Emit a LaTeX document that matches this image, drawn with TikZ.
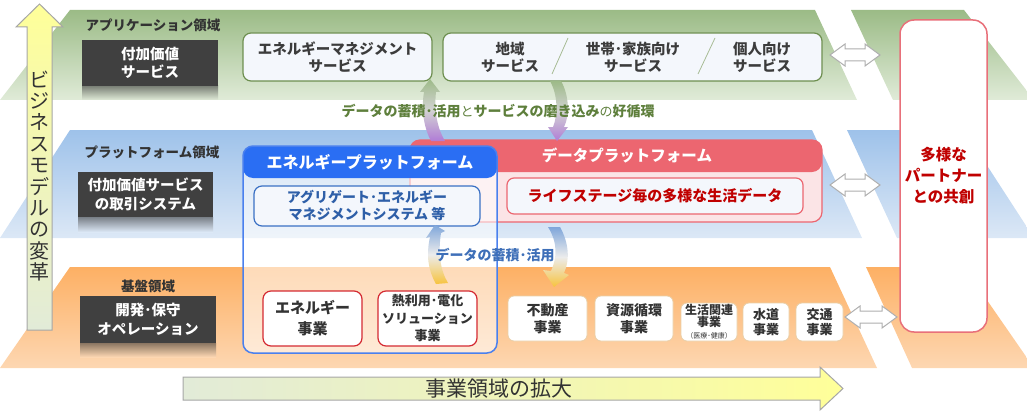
\documentclass[tikz,border=0pt]{standalone}
\usepackage{fontspec}
\setmainfont{Noto Sans CJK JP}
\definecolor{gtop}{HTML}{9BBB86}
\definecolor{gbot}{HTML}{E0EBD8}
\definecolor{btop}{HTML}{9EC2EA}
\definecolor{bbot}{HTML}{DCE8F6}
\definecolor{otop}{HTML}{FDB064}
\definecolor{obot}{HTML}{FDD7B2}
\definecolor{dk}{HTML}{404040}
\definecolor{txt}{HTML}{333333}
\definecolor{ttxt}{HTML}{3C3C3C}
\definecolor{gline}{HTML}{6E8F50}
\definecolor{boxfill}{HTML}{F4F7FC}
\definecolor{eblue}{HTML}{2A6EF3}
\definecolor{eborder}{HTML}{4A80EE}
\definecolor{dred}{HTML}{EC6670}
\definecolor{dpink}{HTML}{FBE4E6}
\definecolor{darkred}{HTML}{C00000}
\definecolor{abl}{HTML}{2E5FA8}
\definecolor{abor}{HTML}{3A70C4}
\definecolor{rbor}{HTML}{D42A32}
\definecolor{tanb}{HTML}{E9CFA8}
\definecolor{cyc}{HTML}{5E7F3C}
\definecolor{dblue}{HTML}{3E6FB8}
\definecolor{pbor}{HTML}{E8707A}
\definecolor{agray}{HTML}{A6A6A6}
\definecolor{yel}{HTML}{FFFF99}
\definecolor{lgr}{HTML}{E2EBD8}
\definecolor{purp}{HTML}{B07CD6}
\definecolor{carrg}{HTML}{9DBA88}
\definecolor{carrb}{HTML}{7FA6DA}
\definecolor{carry}{HTML}{F7C33E}
\newcommand\dblarr[3]{%
  \draw[agray!90, line width=1, fill=white] (#1,#3) -- (#1+15,#3-11) -- (#1+15,#3-6) -- (#2-15,#3-6) -- (#2-15,#3-11) -- (#2,#3) -- (#2-15,#3+11) -- (#2-15,#3+6) -- (#1+15,#3+6) -- (#1+15,#3+11) -- cycle;}
\tikzset{
  darkbox/.style={fill=dk, text=white, align=center, inner sep=0, font=\bfseries\fontsize{14.5}{18.5}\selectfont},
  arealabel/.style={text=txt, inner sep=0, font=\bfseries\fontsize{13.5}{16}\selectfont},
  topbox/.style={draw=gline, line width=1.2, fill=boxfill, rounded corners=8, inner sep=0, align=center, text=ttxt, font=\bfseries\fontsize{14.5}{17}\selectfont},
  toptext/.style={inner sep=0, align=center, text=ttxt, font=\bfseries\fontsize{14.5}{17}\selectfont},
  redbox/.style={draw=rbor, line width=1.2, fill=white, rounded corners=8, inner sep=0, align=center, text=txt},
  smallbox/.style={draw=tanb, line width=0.8, fill=white, rounded corners=6, inner sep=0, align=center, text=txt},
}
\begin{document}
\begin{tikzpicture}[x=1pt,y=-1pt]
\useasboundingbox (0,0) rectangle (1027,417);
% bands
\shade[top color=gtop, bottom color=gbot] (70,10) -- (815,10) -- (857,100) -- (0,100) -- cycle (851,10) -- (964,10) -- (1034,100) -- (893,100) -- cycle;
\shade[top color=btop, bottom color=bbot] (70,130) -- (812,130) -- (862,238) -- (0,238) -- cycle (847,130) -- (964,130) -- (1034,238) -- (897,238) -- cycle;
\shade[top color=otop, bottom color=obot] (70,267) -- (830,267) -- (877,368) -- (0,368) -- cycle (866,267) -- (964,267) -- (1034,368) -- (912,368) -- cycle;
% shadows of dark boxes
\shade[top color=black!45!gbot, bottom color=gbot] (82,86) rectangle (218,100);
\shade[top color=black!45!bbot, bottom color=bbot] (78,217) rectangle (213,232);
\shade[top color=black!45!obot, bottom color=obot] (80,343) rectangle (216,357);
% area labels and dark boxes
\node[arealabel] (la) at (153,25) {アプリケーション領域};
\node[darkbox, minimum width=136, minimum height=46] (d1) at (150,63) {付加価値\\サービス};
\node[arealabel] (lp) at (152,152) {プラットフォーム領域};
\node[darkbox, minimum width=135, minimum height=45] (d2) at (145.5,194.5) {付加価値サービス\\の取引システム};
\node[arealabel] (lb) at (148,286) {基盤領域};
\node[darkbox, minimum width=136, minimum height=47] (d3) at (148,319.5) {開発･保守\\オペレーション};
% vertical arrow
\draw[agray, line width=1, top color=yel, bottom color=lgr] (39.5,4) -- (63,27) -- (52,27) -- (52,330) -- (27,330) -- (27,27) -- (16,27) -- cycle;
\node[text=txt, align=center, inner sep=0, font=\fontsize{20}{21.4}\selectfont] (vt) at (39.5,176) {ビ\\ジ\\ネ\\ス\\モ\\デ\\ル\\の\\変\\革};
% horizontal arrow
\draw[agray, line width=1, left color=lgr, right color=yel] (183,377) -- (820,377) -- (820,367) -- (843,388.5) -- (820,410) -- (820,400) -- (183,400) -- cycle;
\node[text=txt, inner sep=0, font=\fontsize{21}{24}\selectfont] (ht) at (499,389) {事業領域の拡大};
% partner box
\node[draw=pbor, line width=1.5, fill=white, rounded corners=14, minimum width=87, minimum height=312, inner sep=0, align=center, text=darkred, font=\bfseries\fontsize{15.5}{21}\selectfont] (pt) at (943.5,176) {多様な\\パートナー\\との共創};
% top boxes
\node[topbox, minimum width=189, minimum height=48] (ems) at (337.5,57) {エネルギーマネジメント\\サービス};
\node[topbox, minimum width=379, minimum height=48] (svc) at (632.5,57) {};
\node[toptext] (s1) at (510,57) {地域\\サービス};
\node[toptext] (s2) at (633,57) {世帯･家族向け\\サービス};
\node[toptext] (s3) at (762,57) {個人向け\\サービス};
\draw[gline!60, line width=0.8] (568,38) -- (552,74);
\draw[gline!60, line width=0.8] (715,38) -- (698,74);
% data platform
\node[draw=dred, line width=1.2, fill=dpink, rounded corners=10, minimum width=412, minimum height=82, inner sep=0,
  path picture={\fill[dred] (path picture bounding box.north west) rectangle ([yshift=-32pt]path picture bounding box.north east);}] (dp) at (616,181) {};
\node[text=white, inner sep=0, font=\bfseries\fontsize{15.5}{18}\selectfont] (dph) at (627,156) {データプラットフォーム};
% energy platform
\node[draw=eborder, line width=1.5, fill=white, fill opacity=0.55, rounded corners=10, minimum width=254, minimum height=207, inner sep=0,
  path picture={\fill[eblue, fill opacity=1] (path picture bounding box.north west) rectangle ([yshift=-32pt]path picture bounding box.north east);}] (ep) at (370,249.5) {};
\node[text=white, inner sep=0, font=\bfseries\fontsize{16}{18}\selectfont] (eph) at (370,162) {エネルギープラットフォーム};
% inner boxes
\node[draw=dred, line width=1.2, fill=boxfill, rounded corners=7, minimum width=296, minimum height=36, inner sep=0, text=darkred, font=\bfseries\fontsize{15}{18}\selectfont] (life) at (655,196) {ライフステージ毎の多様な生活データ};
\node[draw=abor, line width=1.2, fill=boxfill, rounded corners=8, minimum width=226, minimum height=40, inner sep=0, align=center, text=abl, font=\bfseries\fontsize{14}{17}\selectfont] (agg) at (367,206) {アグリゲート･エネルギー\\マネジメントシステム 等};
% base boxes
\node[redbox, minimum width=99, minimum height=55, font=\bfseries\fontsize{15}{21}\selectfont] (eb) at (312.5,318.5) {エネルギー\\事業};
\node[redbox, minimum width=99, minimum height=55, font=\bfseries\fontsize{13}{17.5}\selectfont] (hb) at (427.5,318.5) {熱利用･電化\\ソリューション\\事業};
\node[smallbox, minimum width=79, minimum height=45, font=\bfseries\fontsize{14}{17}\selectfont] (b1) at (547.5,318.5) {不動産\\事業};
\node[smallbox, minimum width=78, minimum height=45, font=\bfseries\fontsize{14}{17}\selectfont] (b2) at (634,318.5) {資源循環\\事業};
\node[smallbox, minimum width=56, minimum height=38, font=\bfseries\fontsize{12}{12}\selectfont] (b3) at (709,322) {生活関連\\事業\\{\mdseries\fontsize{7}{9}\selectfont （医療･健康）}};
\node[smallbox, minimum width=46, minimum height=38, font=\bfseries\fontsize{13}{15}\selectfont] (b4) at (766,322) {水道\\事業};
\node[smallbox, minimum width=47, minimum height=38, font=\bfseries\fontsize{13}{15}\selectfont] (b5) at (819.5,322) {交通\\事業};
% curved arrows (top cycle)
\shade[top color=carrg, bottom color=purp, middle color=gray!35] (431,141) .. controls (424,128) and (421,110) .. (424,92) -- (420,92) -- (430,79) -- (440,92) -- (436,92) .. controls (434,110) and (437,128) .. (445,141) -- cycle;
\shade[top color=carrg, bottom color=purp, middle color=gray!35] (550,81) -- (561,81) .. controls (569,95) and (570,115) .. (564,127) -- (568,127) -- (557,141) -- (548,127) -- (553,127) .. controls (558,115) and (558,95) .. (550,81) -- cycle;
\node[text=cyc, inner sep=0, font=\bfseries\fontsize{14}{16}\selectfont] (cy) at (498,111) {データの蓄積･活用{\mdseries\fontsize{13}{16}\selectfont と}サービスの磨き込み{\mdseries\fontsize{13}{16}\selectfont の}好循環};
% curved arrows (bottom cycle)
\shade[top color=carrb, bottom color=carry, middle color=white!85!gray] (436,284) .. controls (428,270) and (426,255) .. (430,237) -- (426,238) -- (435,225) -- (445,231) -- (441,233) .. controls (438,252) and (440,270) .. (448,283) -- cycle;
\shade[top color=carrb, bottom color=carry, middle color=white!85!gray] (548,227) -- (560,227) .. controls (569,243) and (570,260) .. (564,273) -- (569,275) -- (554,287) -- (543,270) -- (551,271) .. controls (557,258) and (558,243) .. (548,227) -- cycle;
\node[text=dblue, inner sep=0, font=\bfseries\fontsize{14}{16}\selectfont] (cy2) at (495,255) {データの蓄積･活用};
% double arrows to partner box
\dblarr{830}{880}{55}
\dblarr{830}{880}{185}
\dblarr{845}{897}{317}
\end{tikzpicture}
\end{document}
